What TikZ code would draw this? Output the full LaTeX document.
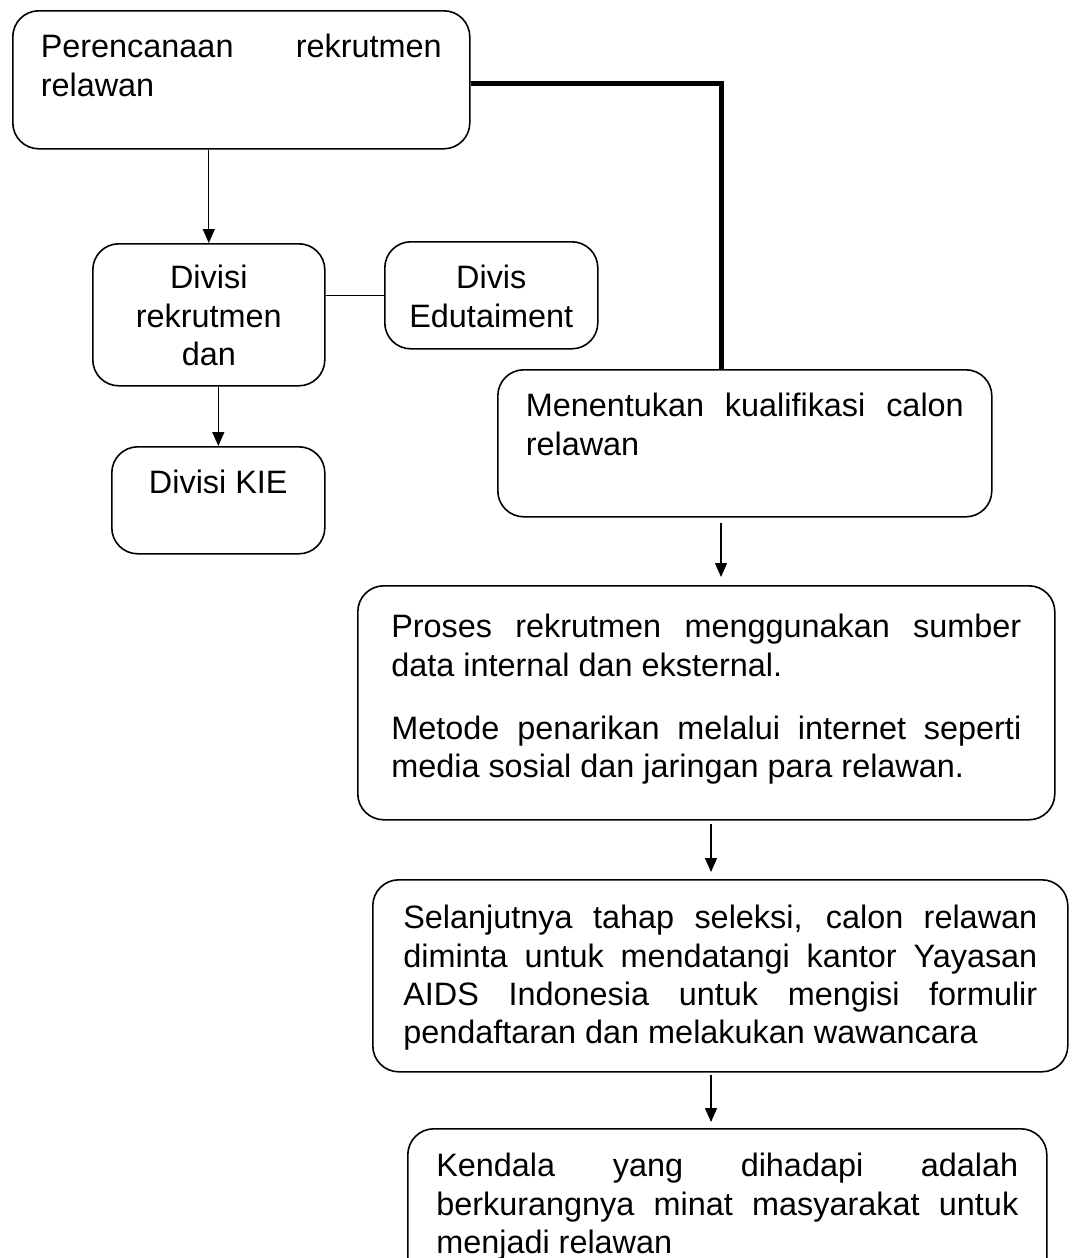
\documentclass[tikz,border=0pt]{standalone}
\usepackage{fontspec}
\setmainfont{Liberation Sans}
\usetikzlibrary{arrows.meta}

% tanpa pemenggalan kata
\hyphenpenalty=10000
\exhyphenpenalty=10000
\tolerance=10000

% isi kotak: lebar, tinggi, teks (rata atas)
\newcommand{\isi}[3]{\parbox[c][#2][t]{#1}{\strut#3}}

\tikzset{
  kotak/.style={draw, line width=0.8pt, rounded corners=13pt, anchor=north west, inner xsep=14pt, inner ysep=10pt},
  panah/.style={-{Triangle[length=7pt,width=6pt]}, line width=0.65pt},
  garis/.style={line width=0.65pt},
  tebal/.style={line width=2.5pt}
}

\begin{document}
\begin{tikzpicture}[x=0.5pt, y=-0.5pt, font=\fontsize{16.2pt}{19.2pt}\selectfont]
	\useasboundingbox (0,0) rectangle (1074,1258);
	\clip (0,0) rectangle (1074,1258);
	
	% --- Kotak kiri ---
	\node[kotak] (rencana) at (12,10) {\isi{200.5pt}{49pt}{Perencanaan rekrutmen\linebreak relawan}};
	\node[kotak, inner ysep=9pt] (divrek) at (92,243) {\isi{88pt}{53pt}{\centering Divisi\\ rekrutmen\\ dan}};
	\node[kotak, inner xsep=10.25pt] (edu) at (384,241) {\isi{86pt}{33.5pt}{\centering Divis\\ Edutaiment}};
	\node[kotak, inner xsep=10.25pt] (kie) at (111,446) {\isi{86pt}{33.5pt}{\centering Divisi KIE}};
	
	% --- Kotak kanan ---
	\node[kotak] (menentukan) at (497,369) {\isi{219pt}{53.5pt}{Menentukan kualifikasi calon\linebreak relawan}};
	\node[kotak, inner xsep=16.75pt, inner ysep=12.5pt] (proses) at (357,585)
		{\isi{315pt}{92pt}{Proses rekrutmen menggunakan sumber\linebreak data internal dan eksternal.\par\vspace{12.5pt}
		Metode penarikan melalui internet seperti\linebreak media sosial dan jaringan para relawan.}};
	\node[kotak, inner xsep=15.25pt, inner ysep=11pt] (seleksi) at (372,879)
		{\isi{317pt}{74pt}{Selanjutnya tahap seleksi, calon relawan\linebreak diminta untuk mendatangi kantor Yayasan\linebreak
		AIDS Indonesia untuk mengisi formulir\linebreak pendaftaran dan melakukan wawancara}};
	\node[kotak, inner xsep=14.25pt, inner ysep=10.5pt] (kendala) at (407,1128)
		{\isi{291pt}{65pt}{Kendala yang dihadapi adalah\linebreak berkurangnya minat masyarakat untuk\linebreak menjadi relawan}};
	
	% --- Garis dan panah ---
	\coordinate (belok) at (721,83);
	\coordinate (tengah) at (711,0);
	\draw[tebal] (rencana.east |- belok) -- (belok) -- (belok |- menentukan.north);
	\draw[panah] (divrek.north |- rencana.south) -- (divrek.north);
	\draw[garis] (divrek.east |- edu.west) -- (edu.west);
	\draw[panah] (kie.north |- divrek.south) -- (kie.north);
	\draw[panah, shorten <=2.5pt, shorten >=4pt] (belok |- menentukan.south) -- (belok |- proses.north);
	\draw[panah, shorten <=1.5pt, shorten >=3.5pt] (tengah |- proses.south) -- (tengah |- seleksi.north);
	\draw[panah, shorten <=1pt, shorten >=3pt] (tengah |- seleksi.south) -- (tengah |- kendala.north);
\end{tikzpicture}
\end{document}
